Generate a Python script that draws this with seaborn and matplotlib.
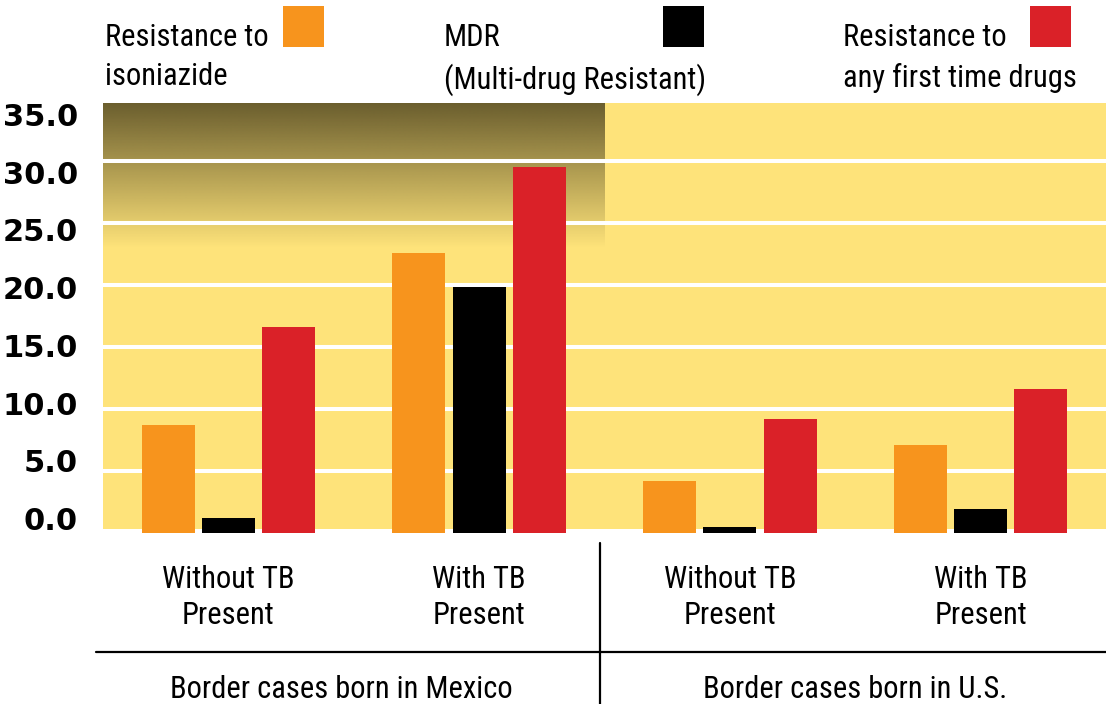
import numpy as np
import pandas as pd
import matplotlib
matplotlib.use("Agg")
import matplotlib.pyplot as plt
import matplotlib.patches as mpatches
from matplotlib.lines import Line2D
from matplotlib import font_manager as fm
import seaborn as sns

# ---------------- data ----------------
groups = ["Mexico|Without", "Mexico|With", "US|Without", "US|With"]
group_labels = ["Without TB\nPresent", "With TB\nPresent", "Without TB\nPresent", "With TB\nPresent"]
origin_labels = ["Border cases born in Mexico", "Border cases born in U.S."]
series = ["Resistance to\nisoniazide", "MDR\n(Multi-drug Resistant)", "Resistance to\nany first time drugs"]
isoniazide = [8.7, 22.6, 4.2, 7.1]
mdr = [1.2, 19.8, 0.5, 1.9]
any_first = [16.6, 29.5, 9.2, 11.6]
colors = ["#f7941d", "#000000", "#da2128"]
yticks = [0, 5, 10, 15, 20, 25, 30, 35]
ytick_labels = ["0.0", "5.0", "10.0", "15.0", "20.0", "25.0", "30.0", "35.0"]

df = pd.DataFrame({
    "group": groups * 3,
    "series": [series[0]] * 4 + [series[1]] * 4 + [series[2]] * 4,
    "value": isoniazide + mdr + any_first,
})

# ---------------- fonts ----------------
sns.set_style("white")
entries = fm.fontManager.ttflist
names = {f.name for f in entries}
stretch = "normal"
fs = 17
cond = "DejaVu Sans"
for cand in ["Liberation Sans Narrow", "Roboto Condensed", "Open Sans Condensed",
             "Noto Sans Condensed", "Arial Narrow", "Noto Sans Display Condensed"]:
    if cand in names:
        cond = cand
        fs = 22
        break
else:
    condensed_faces = [f for f in entries if f.name in ("Noto Sans", "Roboto", "Open Sans", "DejaVu Sans")
                       and str(f.stretch) in ("condensed", "semi-condensed", "extra-condensed", "ultra-condensed",
                                              "75", "62", "50", "87")]
    if condensed_faces:
        order = {"ultra-condensed": 0, "50": 0, "extra-condensed": 1, "62": 1, "condensed": 2, "75": 2,
                 "semi-condensed": 3, "87": 3}
        condensed_faces.sort(key=lambda f: order.get(str(f.stretch), 9))
        cond = condensed_faces[0].name
        stretch = condensed_faces[0].stretch
        fs = 19
plt.rcParams["font.family"] = [cond, "DejaVu Sans"]
plt.rcParams["font.stretch"] = stretch
plt.rcParams["text.color"] = "black"
plt.rcParams["xtick.color"] = "black"
plt.rcParams["ytick.color"] = "black"

W, H = 1106, 704
fig = plt.figure(figsize=(W / 100, H / 100), dpi=100)
fig.patch.set_facecolor("white")

# axes placement (pixels)
ax_l, ax_r, ax_t, ax_b = 103, 1106, 103, 533
ax = fig.add_axes([ax_l / W, 1 - ax_b / H, (ax_r - ax_l) / W, (ax_b - ax_t) / H])
ymax = (ax_b - ax_t) / 12.4
ax.set_xlim(-0.5, 3.5)
ax.set_ylim(0, ymax)
ax.set_facecolor("white")

# yellow background with white separators
yellow = "#fee37a"
ax.axhspan(0.3, ymax, color=yellow, zorder=0, lw=0)
n = 256
alpha = np.linspace(0.76, 0.0, n)
grad = np.zeros((n, 1, 4))
grad[:, 0, 0] = 60 / 255
grad[:, 0, 1] = 52 / 255
grad[:, 0, 2] = 22 / 255
grad[:, 0, 3] = alpha
ax.imshow(grad, extent=(-0.5, 1.5, 23.0, ymax), aspect="auto", origin="upper",
          zorder=0.5, interpolation="bilinear")
for v in yticks[1:-1]:
    ax.axhline(v, color="white", lw=2.9, zorder=0.8)

sns.barplot(data=df, x="group", y="value", hue="series", order=groups,
            hue_order=series, palette=colors, width=0.72, gap=0.12,
            saturation=1, ax=ax, legend=False, zorder=2, linewidth=0)
ax.set_xlim(-0.5, 3.5)
ax.set_ylim(0, ymax)
ax.set_xlabel("")
ax.set_ylabel("")
for s in ax.spines.values():
    s.set_visible(False)
ax.set_xticks(range(len(groups)))
ax.set_xticklabels(group_labels, fontsize=fs, linespacing=1.3, color="black")
ax.tick_params(axis="x", length=0, pad=23)
ax.set_yticks([])

# y tick labels on a twin scale matching the reference label spacing
ax2 = ax.twinx()
unit = (518.5 - 114.5) / 35
ax2.set_ylim(-(ax_b - 518.5) / unit, 35 + (114.5 - ax_t) / unit)
ax2.yaxis.tick_left()
ax2.set_yticks(yticks)
ax2.set_yticklabels(ytick_labels, fontsize=22, fontweight="bold", family="DejaVu Sans",
                    fontstretch="normal", color="black")
ax2.tick_params(axis="y", length=0, pad=18)
for s in ax2.spines.values():
    s.set_visible(False)

# legend (text + square)
leg_text_x = [105, 444, 843]
leg_sq_x = [283, 663, 1030]
for lbl, tx, sx, c in zip(series, leg_text_x, leg_sq_x, colors):
    fig.text(tx / W, 1 - 23 / H, lbl, fontsize=fs, va="top", ha="left", linespacing=1.45)
    fig.add_artist(mpatches.Rectangle((sx / W, 1 - 47 / H), 41 / W, 41 / H,
                                      transform=fig.transFigure, color=c, lw=0))

# bottom group separators and labels
fig.add_artist(Line2D([96 / W, 1.0], [1 - 652 / H, 1 - 652 / H], transform=fig.transFigure,
                      color="black", lw=1.6))
fig.add_artist(Line2D([600 / W, 600 / W], [1 - 543 / H, 0.0], transform=fig.transFigure,
                      color="black", lw=1.6))
for lbl, cx in zip(origin_labels, [341, 855]):
    fig.text(cx / W, 1 - 689 / H, lbl, fontsize=fs, ha="center", va="center")

fig.savefig("out.png", dpi=100, facecolor="white")
